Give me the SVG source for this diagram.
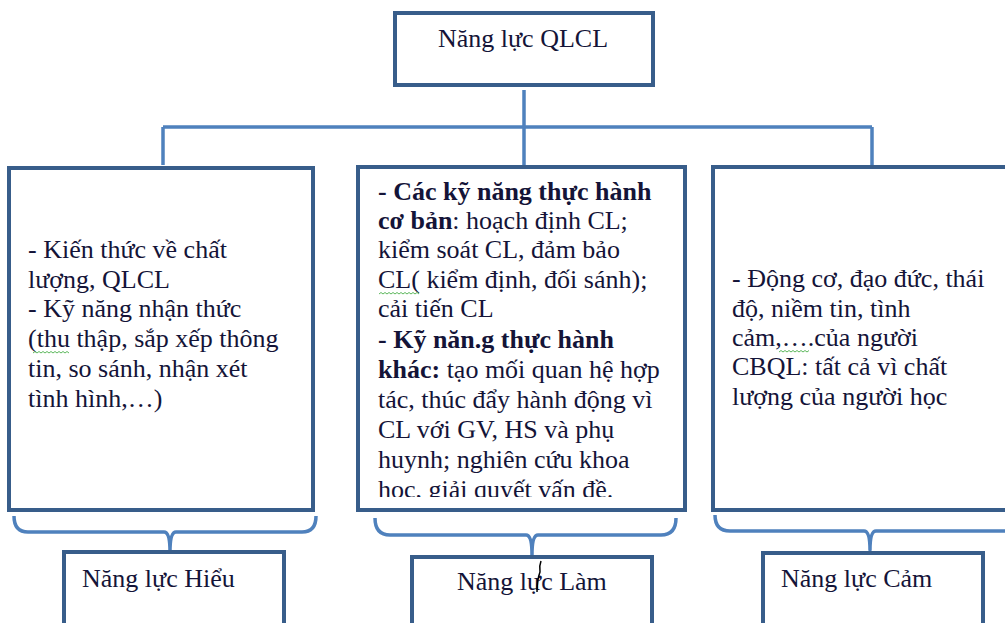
<svg xmlns="http://www.w3.org/2000/svg" width="1005" height="623" viewBox="0 0 1005 623">
<style>
.box{fill:#fff;stroke:#385D8A;stroke-width:4}
.ln{fill:none;stroke:#4F81BD;stroke-width:3.5;stroke-linejoin:round}
.t{font-family:"Liberation Serif","Times New Roman",serif;font-size:26px;fill:#141438}
.b{font-weight:bold}
.sq{fill:none;stroke:#5cb85c;stroke-width:1}
</style>
<defs>
<clipPath id="cclip"><rect x="360" y="169" width="323" height="328"/></clipPath>
</defs>
<rect width="1005" height="623" fill="#fff"/>
<g id="connectors">
<path class="ln" d="M524,90 V127 M163,127 H872 M163,127 V165 M524,127 V165 M872,127 V165"/>
<path class="ln" d="M14,516 Q14,532 28,532 H164 Q170,532 170,552 Q170,532 176,532 H302 Q316,532 316,516"/>
<path class="ln" d="M375,518 Q375,535 390,535 H526 Q532,535 532,555 Q532,535 538,535 H661 Q676,535 676,518"/>
<path class="ln" d="M715,515 Q715,531 730,531 H864 Q870,531 870,550 Q870,531 876,531 H1010"/>
</g>
<g id="node-top">
<rect class="box" x="395" y="13" width="258" height="72"/>
<text class="t" x="523" y="47" text-anchor="middle">Năng lực QLCL</text>
</g>
<g id="node-left">
<rect class="box" x="9" y="168" width="304" height="342"/>
<text class="t" x="28" y="258">- Kiến thức về chất</text>
<text class="t" x="28" y="288">lượng, QLCL</text>
<text class="t" x="28" y="317">- Kỹ năng nhận thức</text>
<text class="t" x="28" y="347">(thu thập, sắp xếp thông</text>
<text class="t" x="28" y="377">tin, so sánh, nhận xét</text>
<text class="t" x="28" y="407">tình hình,…)</text>
<path class="sq" d="M33,353 l2,-1.5 l2,1.5 l2,-1.5 l2,1.5 l2,-1.5 l2,1.5 l2,-1.5 l2,1.5 l2,-1.5 l2,1.5 l2,-1.5 l2,1.5 l2,-1.5 l2,1.5 l2,-1.5 l2,1.5 l2,-1.5 l2,1.5"/>
</g>
<g id="node-center">
<rect class="box" x="358" y="167" width="327" height="343"/>
<g clip-path="url(#cclip)">
<text class="t b" x="378" y="200">- Các kỹ năng thực hành</text>
<text class="t" x="378" y="229"><tspan class="b">cơ bản</tspan>: hoạch định CL;</text>
<text class="t" x="378" y="258">kiểm soát CL, đảm bảo</text>
<text class="t" x="378" y="288">CL( kiểm định, đối sánh);</text>
<text class="t" x="378" y="317">cải tiến CL</text>
<text class="t b" x="378" y="348">- Kỹ năn.g thực hành</text>
<text class="t" x="378" y="378"><tspan class="b">khác:</tspan> tạo mối quan hệ hợp</text>
<text class="t" x="378" y="408">tác, thúc đẩy hành động vì</text>
<text class="t" x="378" y="438">CL với GV, HS và phụ</text>
<text class="t" x="378" y="468">huynh; nghiên cứu khoa</text>
<text class="t" x="378" y="498">học, giải quyết vấn đề.</text>
</g>
<path class="sq" d="M379,294 l2,-1.5 l2,1.5 l2,-1.5 l2,1.5 l2,-1.5 l2,1.5 l2,-1.5 l2,1.5 l2,-1.5 l2,1.5 l2,-1.5 l2,1.5 l2,-1.5 l2,1.5 l2,-1.5 l2,1.5 l2,-1.5 l2,1.5 l2,-1.5 l2,1.5"/>
</g>
<g id="node-right">
<rect class="box" x="713" y="167" width="320" height="343"/>
<text class="t" x="732" y="287">- Động cơ, đạo đức, thái</text>
<text class="t" x="732" y="317">độ, niềm tin, tình</text>
<text class="t" x="732" y="346">cảm,….của người</text>
<text class="t" x="732" y="375">CBQL: tất cả vì chất</text>
<text class="t" x="732" y="405">lượng của người học</text>
<path class="sq" d="M779,352 l2,-1.5 l2,1.5 l2,-1.5 l2,1.5 l2,-1.5 l2,1.5 l2,-1.5 l2,1.5 l2,-1.5 l2,1.5 l2,-1.5 l2,1.5 l2,-1.5 l2,1.5 l2,-1.5"/>
</g>
<g id="node-hieu">
<rect class="box" x="64" y="552" width="220" height="90"/>
<text class="t" x="82" y="587">Năng lực Hiểu</text>
</g>
<g id="node-lam">
<rect class="box" x="412" y="557" width="240" height="90"/>
<text class="t" x="457" y="590">Năng lực Làm</text>
<path d="M541,561 Q539,566 540,572 Q537,580 537,592" fill="none" stroke="#000" stroke-width="1.5"/>
</g>
<g id="node-cam">
<rect class="box" x="763" y="553" width="220" height="90"/>
<text class="t" x="781" y="587">Năng lực Cảm</text>
</g>
</svg>
